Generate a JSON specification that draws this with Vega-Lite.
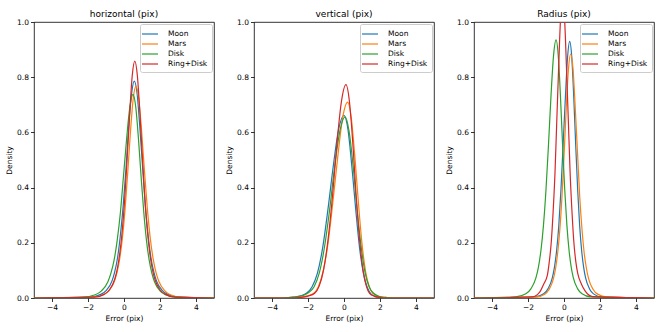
{
"$schema":"https://vega.github.io/schema/vega-lite/v6.json",
"padding":{"left":5,"top":9,"right":5,"bottom":5},
"config":{
"font":"DejaVu Sans",
"view":{"stroke":"black","strokeWidth":0.8},
"axis":{"domain":false,"grid":false,"tickColor":"black","tickSize":3.5,"tickWidth":0.8,"labelColor":"black","labelFontSize":7.5,"labelFont":"DejaVu Sans","labelPadding":2,"titleFont":"DejaVu Sans","titleFontSize":7.5,"titleFontWeight":"normal","titleColor":"black","titlePadding":3},
"title":{"fontSize":9,"fontWeight":"normal","font":"DejaVu Sans","color":"black","offset":-1},
"legend":{"orient":"top-right","offset":2,"title":null,"symbolType":"M-1.6,0L1.6,0","symbolStrokeWidth":1.2,"symbolSize":100,"labelFontSize":7.5,"labelFont":"DejaVu Sans","labelColor":"black","padding":4,"rowPadding":-0.6,"labelOffset":12,"strokeColor":"#cccccc","fillColor":"white","cornerRadius":2},
"concat":{"spacing":10}
},
"data":{"values":[
{"p":"h","s":"Moon","x":-5,"y":0},{"p":"h","s":"Moon","x":-1.91,"y":0.003},{"p":"h","s":"Moon","x":-1.29,"y":0.013},{"p":"h","s":"Moon","x":-0.98,"y":0.028},{"p":"h","s":"Moon","x":-0.67,"y":0.061},{"p":"h","s":"Moon","x":-0.52,"y":0.094},{"p":"h","s":"Moon","x":-0.36,"y":0.145},{"p":"h","s":"Moon","x":-0.21,"y":0.222},{"p":"h","s":"Moon","x":-0.05,"y":0.330},{"p":"h","s":"Moon","x":0.11,"y":0.468},{"p":"h","s":"Moon","x":0.26,"y":0.618},{"p":"h","s":"Moon","x":0.42,"y":0.739},{"p":"h","s":"Moon","x":0.57,"y":0.786},{"p":"h","s":"Moon","x":0.73,"y":0.739},{"p":"h","s":"Moon","x":0.88,"y":0.618},{"p":"h","s":"Moon","x":1.04,"y":0.468},{"p":"h","s":"Moon","x":1.19,"y":0.330},{"p":"h","s":"Moon","x":1.35,"y":0.222},{"p":"h","s":"Moon","x":1.5,"y":0.145},{"p":"h","s":"Moon","x":1.66,"y":0.094},{"p":"h","s":"Moon","x":1.81,"y":0.061},{"p":"h","s":"Moon","x":2.12,"y":0.028},{"p":"h","s":"Moon","x":2.43,"y":0.013},{"p":"h","s":"Moon","x":3.05,"y":0.003},{"p":"h","s":"Moon","x":5,"y":0},
{"p":"h","s":"Mars","x":-5,"y":0},{"p":"h","s":"Mars","x":-1.74,"y":0.003},{"p":"h","s":"Mars","x":-1.14,"y":0.012},{"p":"h","s":"Mars","x":-0.84,"y":0.027},{"p":"h","s":"Mars","x":-0.54,"y":0.060},{"p":"h","s":"Mars","x":-0.39,"y":0.092},{"p":"h","s":"Mars","x":-0.24,"y":0.142},{"p":"h","s":"Mars","x":-0.09,"y":0.216},{"p":"h","s":"Mars","x":0.06,"y":0.322},{"p":"h","s":"Mars","x":0.21,"y":0.457},{"p":"h","s":"Mars","x":0.36,"y":0.603},{"p":"h","s":"Mars","x":0.51,"y":0.721},{"p":"h","s":"Mars","x":0.66,"y":0.767},{"p":"h","s":"Mars","x":0.82,"y":0.721},{"p":"h","s":"Mars","x":0.98,"y":0.603},{"p":"h","s":"Mars","x":1.14,"y":0.457},{"p":"h","s":"Mars","x":1.30,"y":0.322},{"p":"h","s":"Mars","x":1.46,"y":0.216},{"p":"h","s":"Mars","x":1.62,"y":0.142},{"p":"h","s":"Mars","x":1.78,"y":0.092},{"p":"h","s":"Mars","x":1.94,"y":0.060},{"p":"h","s":"Mars","x":2.26,"y":0.027},{"p":"h","s":"Mars","x":2.58,"y":0.012},{"p":"h","s":"Mars","x":3.22,"y":0.003},{"p":"h","s":"Mars","x":5,"y":0},
{"p":"h","s":"Disk","x":-5,"y":0},{"p":"h","s":"Disk","x":-2.3,"y":0.003},{"p":"h","s":"Disk","x":-1.6,"y":0.012},{"p":"h","s":"Disk","x":-1.25,"y":0.026},{"p":"h","s":"Disk","x":-0.9,"y":0.058},{"p":"h","s":"Disk","x":-0.73,"y":0.089},{"p":"h","s":"Disk","x":-0.55,"y":0.137},{"p":"h","s":"Disk","x":-0.38,"y":0.208},{"p":"h","s":"Disk","x":-0.2,"y":0.310},{"p":"h","s":"Disk","x":-0.03,"y":0.440},{"p":"h","s":"Disk","x":0.15,"y":0.580},{"p":"h","s":"Disk","x":0.33,"y":0.694},{"p":"h","s":"Disk","x":0.5,"y":0.738},{"p":"h","s":"Disk","x":0.65,"y":0.694},{"p":"h","s":"Disk","x":0.8,"y":0.580},{"p":"h","s":"Disk","x":0.95,"y":0.440},{"p":"h","s":"Disk","x":1.1,"y":0.310},{"p":"h","s":"Disk","x":1.25,"y":0.208},{"p":"h","s":"Disk","x":1.4,"y":0.137},{"p":"h","s":"Disk","x":1.55,"y":0.089},{"p":"h","s":"Disk","x":1.7,"y":0.058},{"p":"h","s":"Disk","x":2.0,"y":0.026},{"p":"h","s":"Disk","x":2.3,"y":0.012},{"p":"h","s":"Disk","x":2.9,"y":0.003},{"p":"h","s":"Disk","x":5,"y":0},
{"p":"h","s":"Ring+Disk","x":-5,"y":0},{"p":"h","s":"Ring+Disk","x":-1.64,"y":0.003},{"p":"h","s":"Ring+Disk","x":-1.08,"y":0.014},{"p":"h","s":"Ring+Disk","x":-0.8,"y":0.030},{"p":"h","s":"Ring+Disk","x":-0.52,"y":0.067},{"p":"h","s":"Ring+Disk","x":-0.38,"y":0.103},{"p":"h","s":"Ring+Disk","x":-0.24,"y":0.159},{"p":"h","s":"Ring+Disk","x":-0.1,"y":0.242},{"p":"h","s":"Ring+Disk","x":0.04,"y":0.360},{"p":"h","s":"Ring+Disk","x":0.18,"y":0.511},{"p":"h","s":"Ring+Disk","x":0.32,"y":0.674},{"p":"h","s":"Ring+Disk","x":0.46,"y":0.807},{"p":"h","s":"Ring+Disk","x":0.6,"y":0.858},{"p":"h","s":"Ring+Disk","x":0.74,"y":0.807},{"p":"h","s":"Ring+Disk","x":0.88,"y":0.674},{"p":"h","s":"Ring+Disk","x":1.02,"y":0.511},{"p":"h","s":"Ring+Disk","x":1.16,"y":0.360},{"p":"h","s":"Ring+Disk","x":1.3,"y":0.242},{"p":"h","s":"Ring+Disk","x":1.44,"y":0.159},{"p":"h","s":"Ring+Disk","x":1.58,"y":0.103},{"p":"h","s":"Ring+Disk","x":1.72,"y":0.067},{"p":"h","s":"Ring+Disk","x":2.0,"y":0.030},{"p":"h","s":"Ring+Disk","x":2.28,"y":0.014},{"p":"h","s":"Ring+Disk","x":2.84,"y":0.003},{"p":"h","s":"Ring+Disk","x":5,"y":0},
{"p":"v","s":"Moon","x":-5,"y":0},{"p":"v","s":"Moon","x":-3.3,"y":0},{"p":"v","s":"Moon","x":-2.8,"y":0.003},{"p":"v","s":"Moon","x":-2.4,"y":0.008},{"p":"v","s":"Moon","x":-2.07,"y":0.018},{"p":"v","s":"Moon","x":-1.78,"y":0.040},{"p":"v","s":"Moon","x":-1.48,"y":0.089},{"p":"v","s":"Moon","x":-1.18,"y":0.184},{"p":"v","s":"Moon","x":-0.89,"y":0.322},{"p":"v","s":"Moon","x":-0.59,"y":0.481},{"p":"v","s":"Moon","x":-0.30,"y":0.611},{"p":"v","s":"Moon","x":0,"y":0.662},{"p":"v","s":"Moon","x":0.22,"y":0.611},{"p":"v","s":"Moon","x":0.43,"y":0.481},{"p":"v","s":"Moon","x":0.65,"y":0.322},{"p":"v","s":"Moon","x":0.86,"y":0.184},{"p":"v","s":"Moon","x":1.08,"y":0.089},{"p":"v","s":"Moon","x":1.30,"y":0.037},{"p":"v","s":"Moon","x":1.51,"y":0.014},{"p":"v","s":"Moon","x":1.8,"y":0.005},{"p":"v","s":"Moon","x":2.2,"y":0.001},{"p":"v","s":"Moon","x":2.6,"y":0},{"p":"v","s":"Moon","x":5,"y":0},
{"p":"v","s":"Mars","x":-5,"y":0},{"p":"v","s":"Mars","x":-3.0,"y":0},{"p":"v","s":"Mars","x":-2.5,"y":0.003},{"p":"v","s":"Mars","x":-2.1,"y":0.007},{"p":"v","s":"Mars","x":-1.70,"y":0.016},{"p":"v","s":"Mars","x":-1.43,"y":0.040},{"p":"v","s":"Mars","x":-1.16,"y":0.096},{"p":"v","s":"Mars","x":-0.89,"y":0.197},{"p":"v","s":"Mars","x":-0.62,"y":0.346},{"p":"v","s":"Mars","x":-0.34,"y":0.515},{"p":"v","s":"Mars","x":-0.07,"y":0.655},{"p":"v","s":"Mars","x":0.2,"y":0.71},{"p":"v","s":"Mars","x":0.4,"y":0.655},{"p":"v","s":"Mars","x":0.6,"y":0.515},{"p":"v","s":"Mars","x":0.8,"y":0.346},{"p":"v","s":"Mars","x":1.0,"y":0.197},{"p":"v","s":"Mars","x":1.2,"y":0.096},{"p":"v","s":"Mars","x":1.4,"y":0.042},{"p":"v","s":"Mars","x":1.6,"y":0.017},{"p":"v","s":"Mars","x":1.9,"y":0.006},{"p":"v","s":"Mars","x":2.3,"y":0.002},{"p":"v","s":"Mars","x":2.8,"y":0},{"p":"v","s":"Mars","x":5,"y":0},
{"p":"v","s":"Disk","x":-5,"y":0},{"p":"v","s":"Disk","x":-3.4,"y":0},{"p":"v","s":"Disk","x":-2.8,"y":0.003},{"p":"v","s":"Disk","x":-2.3,"y":0.009},{"p":"v","s":"Disk","x":-1.96,"y":0.020},{"p":"v","s":"Disk","x":-1.67,"y":0.040},{"p":"v","s":"Disk","x":-1.38,"y":0.089},{"p":"v","s":"Disk","x":-1.09,"y":0.182},{"p":"v","s":"Disk","x":-0.80,"y":0.319},{"p":"v","s":"Disk","x":-0.52,"y":0.476},{"p":"v","s":"Disk","x":-0.23,"y":0.605},{"p":"v","s":"Disk","x":0.06,"y":0.656},{"p":"v","s":"Disk","x":0.28,"y":0.605},{"p":"v","s":"Disk","x":0.51,"y":0.476},{"p":"v","s":"Disk","x":0.73,"y":0.319},{"p":"v","s":"Disk","x":0.96,"y":0.182},{"p":"v","s":"Disk","x":1.18,"y":0.089},{"p":"v","s":"Disk","x":1.40,"y":0.040},{"p":"v","s":"Disk","x":1.63,"y":0.018},{"p":"v","s":"Disk","x":1.9,"y":0.007},{"p":"v","s":"Disk","x":2.3,"y":0.002},{"p":"v","s":"Disk","x":2.7,"y":0},{"p":"v","s":"Disk","x":5,"y":0},
{"p":"v","s":"Ring+Disk","x":-5,"y":0},{"p":"v","s":"Ring+Disk","x":-3.0,"y":0},{"p":"v","s":"Ring+Disk","x":-2.4,"y":0.002},{"p":"v","s":"Ring+Disk","x":-2.0,"y":0.007},{"p":"v","s":"Ring+Disk","x":-1.63,"y":0.017},{"p":"v","s":"Ring+Disk","x":-1.38,"y":0.043},{"p":"v","s":"Ring+Disk","x":-1.13,"y":0.104},{"p":"v","s":"Ring+Disk","x":-0.88,"y":0.215},{"p":"v","s":"Ring+Disk","x":-0.63,"y":0.376},{"p":"v","s":"Ring+Disk","x":-0.39,"y":0.561},{"p":"v","s":"Ring+Disk","x":-0.14,"y":0.713},{"p":"v","s":"Ring+Disk","x":0.11,"y":0.773},{"p":"v","s":"Ring+Disk","x":0.30,"y":0.713},{"p":"v","s":"Ring+Disk","x":0.49,"y":0.561},{"p":"v","s":"Ring+Disk","x":0.67,"y":0.376},{"p":"v","s":"Ring+Disk","x":0.86,"y":0.215},{"p":"v","s":"Ring+Disk","x":1.05,"y":0.104},{"p":"v","s":"Ring+Disk","x":1.24,"y":0.043},{"p":"v","s":"Ring+Disk","x":1.43,"y":0.016},{"p":"v","s":"Ring+Disk","x":1.7,"y":0.006},{"p":"v","s":"Ring+Disk","x":2.1,"y":0.001},{"p":"v","s":"Ring+Disk","x":2.5,"y":0},{"p":"v","s":"Ring+Disk","x":5,"y":0},
{"p":"r","s":"Moon","x":-5,"y":0},{"p":"r","s":"Moon","x":-1.61,"y":0.004},{"p":"r","s":"Moon","x":-1.13,"y":0.015},{"p":"r","s":"Moon","x":-0.89,"y":0.033},{"p":"r","s":"Moon","x":-0.65,"y":0.073},{"p":"r","s":"Moon","x":-0.53,"y":0.112},{"p":"r","s":"Moon","x":-0.41,"y":0.172},{"p":"r","s":"Moon","x":-0.29,"y":0.262},{"p":"r","s":"Moon","x":-0.17,"y":0.391},{"p":"r","s":"Moon","x":-0.05,"y":0.554},{"p":"r","s":"Moon","x":0.08,"y":0.731},{"p":"r","s":"Moon","x":0.2,"y":0.874},{"p":"r","s":"Moon","x":0.315,"y":0.93},{"p":"r","s":"Moon","x":0.43,"y":0.874},{"p":"r","s":"Moon","x":0.54,"y":0.731},{"p":"r","s":"Moon","x":0.65,"y":0.554},{"p":"r","s":"Moon","x":0.76,"y":0.391},{"p":"r","s":"Moon","x":0.87,"y":0.262},{"p":"r","s":"Moon","x":0.98,"y":0.172},{"p":"r","s":"Moon","x":1.09,"y":0.112},{"p":"r","s":"Moon","x":1.2,"y":0.073},{"p":"r","s":"Moon","x":1.42,"y":0.033},{"p":"r","s":"Moon","x":1.64,"y":0.015},{"p":"r","s":"Moon","x":2.08,"y":0.004},{"p":"r","s":"Moon","x":5,"y":0},
{"p":"r","s":"Mars","x":-5,"y":0},{"p":"r","s":"Mars","x":-1.55,"y":0.004},{"p":"r","s":"Mars","x":-1.07,"y":0.014},{"p":"r","s":"Mars","x":-0.83,"y":0.031},{"p":"r","s":"Mars","x":-0.59,"y":0.069},{"p":"r","s":"Mars","x":-0.47,"y":0.106},{"p":"r","s":"Mars","x":-0.35,"y":0.164},{"p":"r","s":"Mars","x":-0.23,"y":0.249},{"p":"r","s":"Mars","x":-0.11,"y":0.371},{"p":"r","s":"Mars","x":0.01,"y":0.527},{"p":"r","s":"Mars","x":0.13,"y":0.695},{"p":"r","s":"Mars","x":0.25,"y":0.831},{"p":"r","s":"Mars","x":0.37,"y":0.884},{"p":"r","s":"Mars","x":0.5,"y":0.831},{"p":"r","s":"Mars","x":0.62,"y":0.695},{"p":"r","s":"Mars","x":0.75,"y":0.527},{"p":"r","s":"Mars","x":0.87,"y":0.371},{"p":"r","s":"Mars","x":1.0,"y":0.249},{"p":"r","s":"Mars","x":1.12,"y":0.164},{"p":"r","s":"Mars","x":1.25,"y":0.106},{"p":"r","s":"Mars","x":1.37,"y":0.069},{"p":"r","s":"Mars","x":1.62,"y":0.031},{"p":"r","s":"Mars","x":1.87,"y":0.014},{"p":"r","s":"Mars","x":2.37,"y":0.004},{"p":"r","s":"Mars","x":5,"y":0},
{"p":"r","s":"Disk","x":-5,"y":0},{"p":"r","s":"Disk","x":-2.68,"y":0.004},{"p":"r","s":"Disk","x":-2.12,"y":0.015},{"p":"r","s":"Disk","x":-1.84,"y":0.033},{"p":"r","s":"Disk","x":-1.56,"y":0.073},{"p":"r","s":"Disk","x":-1.42,"y":0.112},{"p":"r","s":"Disk","x":-1.28,"y":0.173},{"p":"r","s":"Disk","x":-1.14,"y":0.264},{"p":"r","s":"Disk","x":-1.0,"y":0.393},{"p":"r","s":"Disk","x":-0.86,"y":0.557},{"p":"r","s":"Disk","x":-0.72,"y":0.735},{"p":"r","s":"Disk","x":-0.58,"y":0.879},{"p":"r","s":"Disk","x":-0.44,"y":0.935},{"p":"r","s":"Disk","x":-0.32,"y":0.879},{"p":"r","s":"Disk","x":-0.2,"y":0.735},{"p":"r","s":"Disk","x":-0.08,"y":0.557},{"p":"r","s":"Disk","x":0.04,"y":0.393},{"p":"r","s":"Disk","x":0.16,"y":0.264},{"p":"r","s":"Disk","x":0.28,"y":0.173},{"p":"r","s":"Disk","x":0.4,"y":0.112},{"p":"r","s":"Disk","x":0.52,"y":0.073},{"p":"r","s":"Disk","x":0.76,"y":0.033},{"p":"r","s":"Disk","x":1.0,"y":0.015},{"p":"r","s":"Disk","x":1.48,"y":0.004},{"p":"r","s":"Disk","x":5,"y":0},
{"p":"r","s":"Ring+Disk","x":-5,"y":0},{"p":"r","s":"Ring+Disk","x":-1.76,"y":0.004},{"p":"r","s":"Ring+Disk","x":-1.34,"y":0.022},{"p":"r","s":"Ring+Disk","x":-1.13,"y":0.05},{"p":"r","s":"Ring+Disk","x":-0.92,"y":0.084},{"p":"r","s":"Ring+Disk","x":-0.82,"y":0.130},{"p":"r","s":"Ring+Disk","x":-0.71,"y":0.200},{"p":"r","s":"Ring+Disk","x":-0.61,"y":0.305},{"p":"r","s":"Ring+Disk","x":-0.5,"y":0.454},{"p":"r","s":"Ring+Disk","x":-0.40,"y":0.644},{"p":"r","s":"Ring+Disk","x":-0.29,"y":0.849},{"p":"r","s":"Ring+Disk","x":-0.19,"y":1.015},{"p":"r","s":"Ring+Disk","x":-0.08,"y":1.08},{"p":"r","s":"Ring+Disk","x":0.03,"y":1.015},{"p":"r","s":"Ring+Disk","x":0.13,"y":0.849},{"p":"r","s":"Ring+Disk","x":0.24,"y":0.644},{"p":"r","s":"Ring+Disk","x":0.34,"y":0.454},{"p":"r","s":"Ring+Disk","x":0.45,"y":0.305},{"p":"r","s":"Ring+Disk","x":0.55,"y":0.200},{"p":"r","s":"Ring+Disk","x":0.66,"y":0.130},{"p":"r","s":"Ring+Disk","x":0.76,"y":0.09},{"p":"r","s":"Ring+Disk","x":0.97,"y":0.05},{"p":"r","s":"Ring+Disk","x":1.18,"y":0.025},{"p":"r","s":"Ring+Disk","x":1.6,"y":0.005},{"p":"r","s":"Ring+Disk","x":5,"y":0}
]},
"hconcat":[
{"title":"horizontal (pix)","width":180,"height":276,
"transform":[{"filter":"datum.p == 'h'"}],
"mark":{"type":"line","strokeWidth":1.2,"clip":true,"interpolate":"monotone"},
"encoding":{
"x":{"field":"x","type":"quantitative","scale":{"domain":[-5,5],"nice":false,"zero":false},"axis":{"values":[-4,-2,0,2,4],"title":"Error (pix)"}},
"y":{"field":"y","type":"quantitative","scale":{"domain":[0,1],"nice":false},"axis":{"values":[0,0.2,0.4,0.6,0.8,1.0],"format":".1f","title":"Density"}},
"color":{"field":"s","type":"nominal","sort":null,"scale":{"domain":["Moon","Mars","Disk","Ring+Disk"],"range":["#1f77b4","#ff7f0e","#2ca02c","#d62728"]}}}},
{"title":"vertical (pix)","width":180,"height":276,
"transform":[{"filter":"datum.p == 'v'"}],
"mark":{"type":"line","strokeWidth":1.2,"clip":true,"interpolate":"monotone"},
"encoding":{
"x":{"field":"x","type":"quantitative","scale":{"domain":[-5,5],"nice":false,"zero":false},"axis":{"values":[-4,-2,0,2,4],"title":"Error (pix)"}},
"y":{"field":"y","type":"quantitative","scale":{"domain":[0,1],"nice":false},"axis":{"values":[0,0.2,0.4,0.6,0.8,1.0],"format":".1f","title":"Density"}},
"color":{"field":"s","type":"nominal","sort":null,"scale":{"domain":["Moon","Mars","Disk","Ring+Disk"],"range":["#1f77b4","#ff7f0e","#2ca02c","#d62728"]}}}},
{"title":"Radius (pix)","width":180,"height":276,
"transform":[{"filter":"datum.p == 'r'"}],
"mark":{"type":"line","strokeWidth":1.2,"clip":true,"interpolate":"monotone"},
"encoding":{
"x":{"field":"x","type":"quantitative","scale":{"domain":[-5,5],"nice":false,"zero":false},"axis":{"values":[-4,-2,0,2,4],"title":"Error (pix)"}},
"y":{"field":"y","type":"quantitative","scale":{"domain":[0,1],"nice":false},"axis":{"values":[0,0.2,0.4,0.6,0.8,1.0],"format":".1f","title":"Density"}},
"color":{"field":"s","type":"nominal","sort":null,"scale":{"domain":["Moon","Mars","Disk","Ring+Disk"],"range":["#1f77b4","#ff7f0e","#2ca02c","#d62728"]}}}}
],
"resolve":{"legend":{"color":"independent"},"scale":{"color":"independent"}}
}
